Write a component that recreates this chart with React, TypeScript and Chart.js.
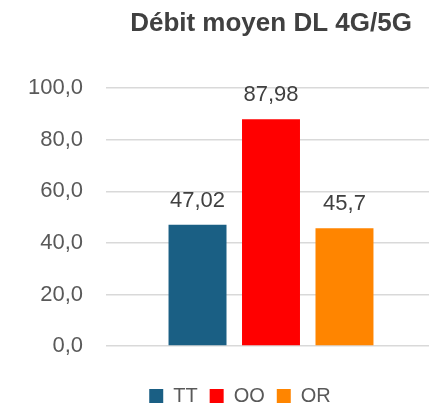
import React, { useEffect, useRef } from "react";
import { Chart, registerables } from "chart.js";

Chart.register(...registerables);

const categories = [""];
const seriesNames = ["TT", "OO", "OR"];
const seriesValues = [47.02, 87.98, 45.7];
const seriesColors = ["#1A5F84", "#FF0000", "#FF8500"];
const yMin = 0;
const yMax = 100;
const yStep = 20;
const titleText = "Débit moyen DL 4G/5G";

const FONT = "'Liberation Sans', Arial, sans-serif";

const fmt = (v: number) => String(v).replace(".", ",");

const valueLabels = {
  id: "valueLabels",
  afterDatasetsDraw(chart: any) {
    const ctx = chart.ctx;
    ctx.save();
    ctx.font = `22px ${FONT}`;
    ctx.fillStyle = "#404040";
    ctx.textAlign = "center";
    ctx.textBaseline = "alphabetic";
    chart.data.datasets.forEach((ds: any, i: number) => {
      const meta = chart.getDatasetMeta(i);
      meta.data.forEach((el: any, j: number) => {
        ctx.fillText(fmt(ds.data[j]), el.x, el.y - 18);
      });
    });
    ctx.restore();
  },
};

const legendShift = {
  id: "legendShift",
  afterLayout(chart: any) {
    const lg = chart.legend;
    if (lg) {
      lg.left += 22;
      lg.right += 22;
    }
  },
};

export default function App() {
  const ref = useRef<HTMLCanvasElement>(null);
  useEffect(() => {
    if (!ref.current) return;
    const chart = new Chart(ref.current, {
      type: "bar",
      data: {
        labels: categories,
        datasets: seriesNames.map((n, i) => ({
          label: n,
          data: [seriesValues[i]],
          backgroundColor: seriesColors[i],
          categoryPercentage: 0.668,
          barPercentage: 0.789,
        })),
      },
      options: {
        responsive: false,
        animation: false,
        layout: { padding: { left: 0, top: 0, bottom: 0, right: 4 } },
        plugins: {
          tooltip: { enabled: false },
          title: {
            display: true,
            text: titleText,
            fullSize: false,
            color: "#404040",
            font: { family: FONT, size: 26, weight: "bold", lineHeight: 1.2 },
            padding: { top: 8, bottom: 49 },
          },
          legend: {
            position: "bottom",
            labels: {
              boxWidth: 14,
              boxHeight: 14,
              padding: 12,
              color: "#595959",
              font: { family: FONT, size: 20 },
            },
          },
        },
        scales: {
          x: {
            grid: { display: false },
            border: { display: false },
            ticks: { display: false },
            afterFit: (s: any) => {
              s.height = 28;
            },
          },
          y: {
            min: yMin,
            max: yMax,
            ticks: {
              stepSize: yStep,
              padding: 23,
              color: "#595959",
              font: { family: FONT, size: 22 },
              callback: (v: any) => Number(v).toFixed(1).replace(".", ","),
            },
            grid: { color: "#D9D9D9", lineWidth: 1.5, drawTicks: false },
            border: { display: false },
            afterFit: (s: any) => {
              s.width = 106;
            },
          },
        },
      },
      plugins: [valueLabels, legendShift],
    });
    return () => chart.destroy();
  }, []);
  return (
    <div
      style={{
        position: "absolute",
        left: 0,
        top: 0,
        width: 429,
        height: 406,
        overflow: "hidden",
        background: "#fff",
      }}
    >
      <canvas ref={ref} width={440} height={416} />
    </div>
  );
}
